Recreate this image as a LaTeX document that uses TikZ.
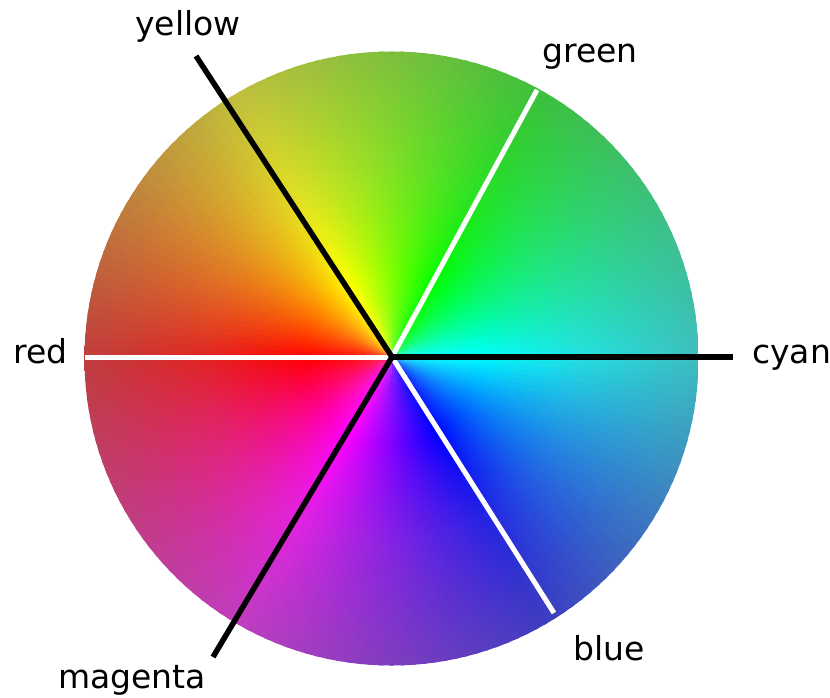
\documentclass[tikz,border=0pt]{standalone}
\usepackage{fontspec}
\setmainfont{DejaVu Sans}
\begin{document}
\begin{tikzpicture}[x=1pt,y=-1pt,
  blackline/.style={line width=5.5pt,black},
  whiteline/.style={line width=5pt,white},
  lab/.style={anchor=base west,inner sep=0pt,font=\fontsize{33}{40}\selectfont}]
\definecolor{wA}{rgb}{1,1,1}
\definecolor{wB}{rgb}{1,0,0}
\definecolor{wM}{rgb}{1,0,0}
\definecolor{wC}{rgb}{0,0,0}
\pgfdeclareradialshading[wA,wB,wM,wC]{wheelshade}{\pgfpoint{0bp}{0bp}}{color(0bp)=(wA); color(7bp)=(wB); color(15bp)=(wM); color(25bp)=(wC); color(50bp)=(wC)}
\fill[white] (0,0) rectangle (830,697);
\useasboundingbox (0,0) rectangle (830,697);
\coordinate (C) at (391.5,358.5);
\coordinate (O) at (392,357);
\foreach \i in {0,2,...,358} {
  \pgfmathsetmacro{\h}{mod(\i+181,360)}
  \pgfmathsetmacro{\sa}{\i-0.4}
  \pgfmathsetmacro{\ea}{\i+2.4}
  \definecolor{wB}{Hsb}{\h,1,1}
  \colorlet{wA}{wB!90!white}
  \colorlet{wM}{wB!88!black!96!white}
  \colorlet{wC}{wB!73!black!93!white}
  \begin{scope}
    \clip (O) -- ++(\sa:330) arc[start angle=\sa, end angle=\ea, radius=330] -- cycle;
    \shade[shading=wheelshade] (C) circle[radius=307];
  \end{scope}
}
\coordinate (yEnd) at (196,56);
\coordinate (gEnd) at (537,90);
\coordinate (rEnd) at (85,357);
\coordinate (cEnd) at (733,357);
\coordinate (bEnd) at (554,613);
\coordinate (mEnd) at (213,657);
\draw[whiteline] (O) -- (gEnd);
\draw[whiteline] (O) -- (rEnd);
\draw[whiteline] (O) -- (bEnd);
\draw[blackline] (O) -- (yEnd);
\draw[blackline] (O) -- (cEnd);
\draw[blackline] (O) -- (mEnd);
\node[lab] (yellow) at (135,35) {yellow};
\node[lab] (green) at (542,62) {green};
\node[lab] (red) at (13,363) {red};
\node[lab] (cyan) at (752,363) {cyan};
\node[lab] (blue) at (573,660) {blue};
\node[lab] (magenta) at (58,688) {magenta};
\end{tikzpicture}
\end{document}
